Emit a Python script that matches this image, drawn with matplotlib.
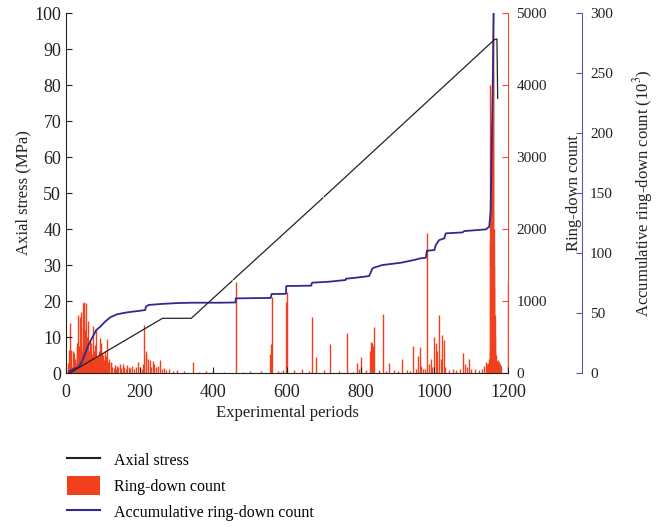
import numpy as np
import matplotlib
matplotlib.use("Agg")
import matplotlib.pyplot as plt
from matplotlib.lines import Line2D
from matplotlib.patches import Patch

plt.rcParams["font.family"] = ["Liberation Serif", "DejaVu Serif"]
plt.rcParams["mathtext.fontset"] = "stix"

# axial stress path (MPa) vs experimental period, NaN marks gaps in the record
stress_period = [10, 262, 340, 451, 452, 455, 697, 698, 701, 1163, 1170, 1172]
stress_mpa = [0.0, 15.2, 15.2, 25.6, np.nan, 26.0, 48.6, np.nan, 49.0, 92.6, 92.8, 76.3]

# accumulative ring-down count (10^3)
acc_period = [8, 24, 34, 43, 52, 61, 70, 82, 93, 106, 120, 138, 165, 201, 215, 217,
              224, 256, 301, 346, 419, 460, 461, 556, 558, 597, 598, 666, 667, 669,
              714, 759, 760, 786, 823, 832, 836, 859, 909, 945, 963, 977, 980, 1000,
              1004, 1013, 1027, 1031, 1077, 1081, 1140, 1149, 1153, 1155, 1157, 1159, 1161]
acc_count = [1.1, 3.9, 4.7, 9.4, 16.4, 23.3, 28.9, 35.8, 38.6, 42.8, 46.4, 48.9, 50.5,
             51.9, 52.5, 55.3, 56.7, 57.5, 58.3, 58.6, 58.6, 58.8, 62.2, 62.6, 65.8,
             66.0, 72.5, 72.8, 74.7, 75.3, 76.1, 77.5, 78.6, 79.4, 80.8, 87.2, 87.8,
             90.0, 91.9, 94.2, 95.6, 96.1, 101.9, 102.5, 106.7, 110.8, 112.2, 116.4,
             117.2, 118.3, 119.7, 121.9, 135.0, 175.0, 210.0, 250.0, 300.0]

# ring-down count per period (periods not listed are zero)
rd_period = [5, 6, 9, 12, 13, 14, 17, 19, 21, 23, 25, 27, 29, 31, 33, 35, 38, 40, 42, 44,
             45, 47, 49, 50, 52, 54, 55, 57, 60, 62, 64, 66, 69, 71, 73, 75, 78, 80, 82,
             84, 87, 89, 91, 93, 96, 98, 100, 102, 105, 108, 112, 115, 118, 121, 123,
             126, 129, 132, 135, 138, 142, 146, 150, 154, 158, 162, 166, 170, 175, 180,
             185, 190, 195, 200, 205, 210, 213, 216, 218, 222, 227, 232, 236, 240, 245,
             250, 254, 260, 265, 272, 280, 290, 300, 320, 345, 360, 381, 400, 430, 462,
             480, 500, 530, 553, 556, 560, 575, 585, 590, 598, 600, 620, 640, 660, 668,
             680, 700, 718, 740, 764, 780, 791, 795, 802, 815, 825, 827, 830, 833, 836,
             850, 861, 870, 877, 890, 900, 911, 925, 935, 941, 950, 957, 961, 965, 970,
             975, 980, 985, 990, 995, 1000, 1004, 1008, 1013, 1018, 1022, 1027, 1030,
             1040, 1050, 1060, 1070, 1077, 1082, 1090, 1095, 1100, 1110, 1120, 1130,
             1136, 1140, 1143, 1146, 1148, 1150, 1151, 1152, 1153, 1154, 1155, 1156,
             1157, 1158, 1159, 1160, 1161, 1162, 1163, 1164, 1165, 1166, 1167, 1168,
             1170, 1172, 1174, 1176, 1178, 1180, 1199]
rd_count = [60, 139, 320, 690, 320, 120, 90, 300, 150, 280, 200, 140, 365, 420, 805, 380,
            780, 450, 850, 300, 976, 620, 815, 990, 597, 380, 970, 500, 720, 300, 458,
            380, 420, 260, 650, 300, 250, 390, 600, 220, 240, 300, 481, 200, 420, 280,
            250, 180, 300, 230, 472, 150, 200, 140, 150, 90, 70, 110, 60, 100, 80, 120,
            70, 130, 90, 60, 110, 80, 70, 100, 60, 90, 157, 80, 60, 120, 667, 300, 250,
            200, 180, 90, 160, 120, 80, 100, 180, 60, 70, 40, 50, 30, 40, 25, 157, 20,
            30, 25, 20, 1268, 20, 30, 25, 260, 400, 1060, 30, 20, 40, 990, 1130, 40, 60,
            30, 782, 227, 40, 398, 30, 560, 20, 139, 60, 227, 40, 300, 435, 420, 380,
            643, 40, 815, 30, 145, 40, 30, 190, 40, 30, 375, 60, 240, 358, 100, 60, 50,
            1950, 120, 200, 80, 505, 420, 300, 805, 200, 528, 460, 80, 40, 50, 40, 60,
            273, 120, 80, 190, 60, 50, 40, 60, 100, 150, 120, 140, 200, 300, 4000, 1800,
            2600, 1250, 3000, 2200, 3500, 4200, 5000, 4700, 2000, 1500, 1200, 800, 500,
            300, 250, 180, 160, 140, 180, 150, 120, 100, 1270]

xticks = [0, 200, 400, 600, 800, 1000, 1200]
stress_ticks = list(range(0, 101, 10))
rd_ticks = [0, 1000, 2000, 3000, 4000, 5000]
acc_ticks = [0, 50, 100, 150, 200, 250, 300]

red = "#f0401e"
red_axis = "#ff4a2a"
blue = "#2e2b8f"
blue_axis = "#5a55b5"

fig = plt.figure(figsize=(6.57, 5.27), dpi=100)
ax = fig.add_axes([0.1005, 0.2922, 0.6727, 0.683])
ax2 = ax.twinx()
ax3 = ax.twinx()
ax3.spines["right"].set_position(("outward", 53))

# bars go on the ring-down axis, stress and accumulation lines on top
ax2.vlines(rd_period, 0, rd_count, color=red, linewidth=1.0)
ax3.plot(acc_period, acc_count, color=blue, linewidth=1.3)
ax.plot(stress_period, stress_mpa, color="#222222", linewidth=0.9)

ax.set_zorder(3)
ax3.set_zorder(2)
ax2.set_zorder(1)
ax.patch.set_visible(False)
ax3.patch.set_visible(False)

ax.set_xlim(0, 1200)
ax.set_ylim(0, 100)
ax2.set_ylim(0, 5000)
ax3.set_ylim(0, 300)
ax.set_xticks(xticks)
ax.set_yticks(stress_ticks)
ax2.set_yticks(rd_ticks)
ax3.set_yticks(acc_ticks)

for a in (ax, ax2, ax3):
    a.spines["top"].set_visible(False)
ax.spines["right"].set_visible(False)
ax2.spines["left"].set_visible(False)
ax3.spines["left"].set_visible(False)
ax2.spines["bottom"].set_visible(False)
ax3.spines["bottom"].set_visible(False)
ax.spines["left"].set_color("#222222")
ax.spines["bottom"].set_color("#222222")
ax2.spines["right"].set_color(red_axis)
ax3.spines["right"].set_color(blue_axis)

ax.tick_params(axis="both", direction="in", length=4, labelsize=13, colors="#222222")
ax.tick_params(axis="x", pad=8)
ax2.tick_params(axis="y", direction="in", length=4, color=red_axis, labelsize=11,
                labelcolor="#222222", pad=6)
ax3.tick_params(axis="y", direction="in", length=4, color=blue_axis, labelsize=11,
                labelcolor="#222222", pad=6)

ax.set_xlabel("Experimental periods", fontsize=12, color="#222222", labelpad=3)
ax.set_ylabel("Axial stress (MPa)", fontsize=12, color="#222222", labelpad=2)
ax2.set_ylabel("Ring-down count", fontsize=12, color="#222222", labelpad=14)
ax3.set_ylabel("Accumulative ring-down count (10$^3$)", fontsize=12, color="#222222",
               labelpad=13)

handles = [Line2D([], [], color="#222222", linewidth=1.5),
           Patch(facecolor=red, edgecolor="none"),
           Line2D([], [], color=blue, linewidth=1.5)]
labels = ["Axial stress", "Ring-down count", "Accumulative ring-down count"]
fig.legend(handles, labels, loc="upper left", bbox_to_anchor=(0.092, 0.158),
           frameon=False, fontsize=11.5, handlelength=2.1, handleheight=1.45,
           handletextpad=0.85, labelspacing=0.45, borderaxespad=0)

fig.savefig("out.png", dpi=100)
